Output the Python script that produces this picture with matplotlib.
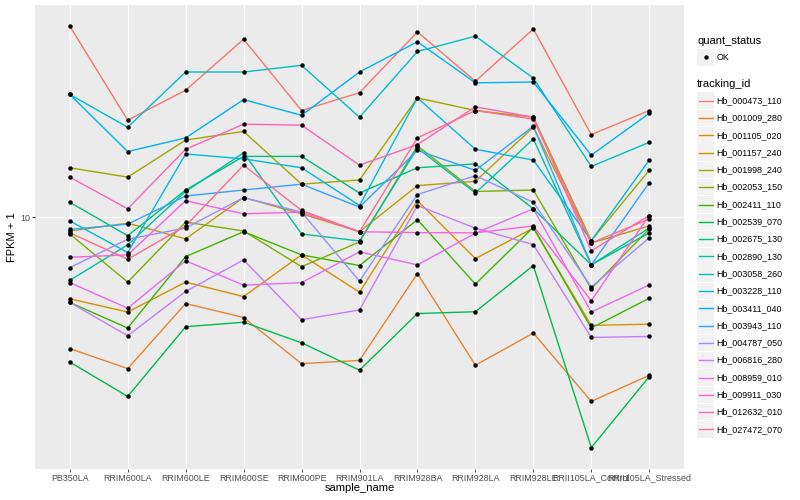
import numpy as np
import matplotlib
matplotlib.use("Agg")
import matplotlib.pyplot as plt
from matplotlib.patches import Rectangle

plt.rcParams["font.family"] = ["Liberation Sans", "DejaVu Sans"]

samples = ["PB350LA", "RRIM600LA", "RRIM600LE", "RRIM600SE", "RRIM600PE", "RRIM901LA",
           "RRIM928BA", "RRIM928LA", "RRIM928LE", "RRII105LA_Control", "RRII105LA_Stressed"]
tracking_ids = ["Hb_000473_110", "Hb_001009_280", "Hb_001105_020", "Hb_001157_240",
                "Hb_001998_240", "Hb_002053_150", "Hb_002411_110", "Hb_002539_070",
                "Hb_002675_130", "Hb_002890_130", "Hb_003058_260", "Hb_003228_110",
                "Hb_003411_040", "Hb_003943_110", "Hb_004787_050", "Hb_006816_280",
                "Hb_008959_010", "Hb_009911_030", "Hb_012632_010", "Hb_027472_070"]
# ggplot hue palette, one per tracking_id
colors = ["#F8766D", "#EA8331", "#D89000", "#C09B00", "#A3A500", "#7CAE00", "#39B600",
          "#00BB4E", "#00BF7D", "#00C1A3", "#00BFC4", "#00BAE0", "#00B0F6", "#35A2FF",
          "#9590FF", "#C77CFF", "#E76BF3", "#FA62DB", "#FF62BC", "#FF6C91"]

# FPKM + 1, one value per sample (order as in `samples`)
hb_000473_110 = [30.1, 17.5, 20.8, 27.9, 18.5, 20.5, 29.1, 21.9, 29.6, 16.1, 18.5]
hb_001009_280 = [4.69, 4.18, 6.08, 5.61, 4.3, 4.38, 7.23, 4.26, 5.13, 3.46, 4.02]
hb_001105_020 = [6.25, 5.79, 6.88, 6.33, 8.05, 6.49, 11.0, 7.88, 9.39, 5.36, 5.4]
hb_001157_240 = [9.24, 9.66, 8.83, 11.2, 10.2, 9.2, 12.0, 12.3, 16.8, 8.62, 9.51]
hb_001998_240 = [13.3, 12.6, 15.6, 16.4, 12.1, 12.4, 19.9, 18.5, 17.8, 8.74, 13.1]
hb_002053_150 = [9.08, 6.88, 9.72, 9.24, 7.52, 8.67, 15.1, 11.6, 11.7, 6.62, 9.35]
hb_002411_110 = [6.12, 5.28, 7.97, 9.2, 8.05, 7.57, 9.86, 6.8, 9.44, 5.28, 6.27]
hb_002539_070 = [4.34, 3.56, 5.32, 5.46, 4.85, 4.14, 5.74, 5.8, 7.57, 2.65, 3.99]
hb_002675_130 = [10.9, 8.99, 11.7, 14.2, 14.2, 11.5, 13.3, 13.6, 10.5, 7.6, 9.14]
hb_002890_130 = [6.95, 8.53, 11.6, 14.5, 9.08, 8.72, 14.9, 11.5, 15.7, 7.6, 9.4]
hb_003058_260 = [20.3, 16.8, 23.1, 23.1, 24.0, 17.8, 26.0, 28.4, 22.3, 13.4, 15.4]
hb_003228_110 = [9.79, 8.16, 14.4, 14.0, 13.3, 10.7, 19.9, 14.8, 13.9, 8.74, 13.9]
hb_003411_040 = [20.3, 14.6, 15.8, 19.7, 18.0, 23.1, 27.5, 21.7, 21.8, 14.3, 18.2]
hb_003943_110 = [9.32, 9.61, 11.3, 11.7, 12.1, 10.6, 14.7, 13.1, 16.9, 7.6, 12.2]
hb_004787_050 = [7.48, 8.81, 9.4, 11.2, 10.3, 6.92, 11.4, 12.7, 10.9, 6.69, 8.88]
hb_006816_280 = [6.12, 5.05, 6.52, 7.82, 5.54, 5.86, 10.7, 9.39, 8.54, 5.0, 5.03]
hb_008959_010 = [6.86, 5.92, 7.78, 6.76, 6.86, 8.19, 7.6, 9.12, 10.5, 5.79, 6.77]
hb_009911_030 = [7.94, 8.05, 11.0, 10.2, 10.3, 9.2, 9.15, 9.14, 9.51, 6.18, 10.1]
hb_012632_010 = [12.6, 10.5, 14.8, 17.1, 17.0, 13.5, 15.2, 18.9, 17.8, 8.24, 10.1]
hb_027472_070 = [9.14, 7.85, 9.51, 13.5, 10.4, 9.2, 15.8, 18.5, 17.6, 8.62, 9.9]

fpkm = [hb_000473_110, hb_001009_280, hb_001105_020, hb_001157_240, hb_001998_240,
        hb_002053_150, hb_002411_110, hb_002539_070, hb_002675_130, hb_002890_130,
        hb_003058_260, hb_003228_110, hb_003411_040, hb_003943_110, hb_004787_050,
        hb_006816_280, hb_008959_010, hb_009911_030, hb_012632_010, hb_027472_070]

fig = plt.figure(figsize=(8, 5), dpi=100)
ax = fig.add_axes([35 / 800, 1 - 468.7 / 500, (684 - 35) / 800, (468.7 - 5) / 500])
ax.set_facecolor("#EBEBEB")
x = np.arange(len(samples))
for vals, c in zip(fpkm, colors):
    ax.plot(x, vals, color=c, lw=1.0, zorder=3)
for vals in fpkm:
    ax.plot(x, vals, "o", color="black", ms=3.2, mew=0, zorder=4)

ax.set_yscale("log")
allv = np.log10(np.concatenate(fpkm))
lo, hi = allv.min(), allv.max()
pad = 0.05 * (hi - lo)  # ggplot default expansion
ax.set_ylim(10 ** (lo - pad), 10 ** (hi + pad))
ax.set_xlim(-0.6, len(samples) - 0.4)
ax.set_yticks([10])
ax.set_yticklabels(["10"])
ax.yaxis.set_minor_locator(matplotlib.ticker.NullLocator())
ax.set_xticks(x)
ax.set_xticklabels(samples)
ax.grid(True, color="white", lw=0.8, zorder=1)
ax.set_axisbelow(True)
for s in ax.spines.values():
    s.set_visible(False)
ax.tick_params(axis="both", length=2, width=0.6, color="#333333", labelsize=6.4,
               labelcolor="#4D4D4D", pad=1.5)

fig.text(359.5 / 800, 1 - 488 / 500, "sample_name", ha="center", va="center", fontsize=8)
fig.text(12 / 800, 1 - 236.8 / 500, "FPKM + 1", ha="center", va="center", rotation=90, fontsize=8)

# legends, drawn in pixel space
lg = fig.add_axes([0, 0, 1, 1], facecolor="none")
lg.set_xlim(0, 800)
lg.set_ylim(500, 0)
lg.axis("off")
kx, kw = 697, 17.3
lg.text(kx, 40.7, "quant_status", fontsize=8, va="center", ha="left")
lg.add_patch(Rectangle((kx, 48.5), kw, kw, color="#F2F2F2", lw=0))
lg.plot([kx + kw / 2], [57.1], "o", color="black", ms=3.2, mew=0)
lg.text(716.5, 57.1, "OK", fontsize=6.4, va="center", ha="left")
lg.text(kx, 84.3, "tracking_id", fontsize=8, va="center", ha="left")
for i, (name, c) in enumerate(zip(tracking_ids, colors)):
    yc = 100.7 + i * 17.3
    lg.add_patch(Rectangle((kx, yc - kw / 2 + 0.4), kw, kw - 0.8, color="#F2F2F2", lw=0))
    lg.plot([kx + 1.7, kx + kw - 1.7], [yc, yc], color=c, lw=1.0)
    lg.text(716.5, yc, name, fontsize=6.4, va="center", ha="left")

fig.savefig("out.png", dpi=100)
